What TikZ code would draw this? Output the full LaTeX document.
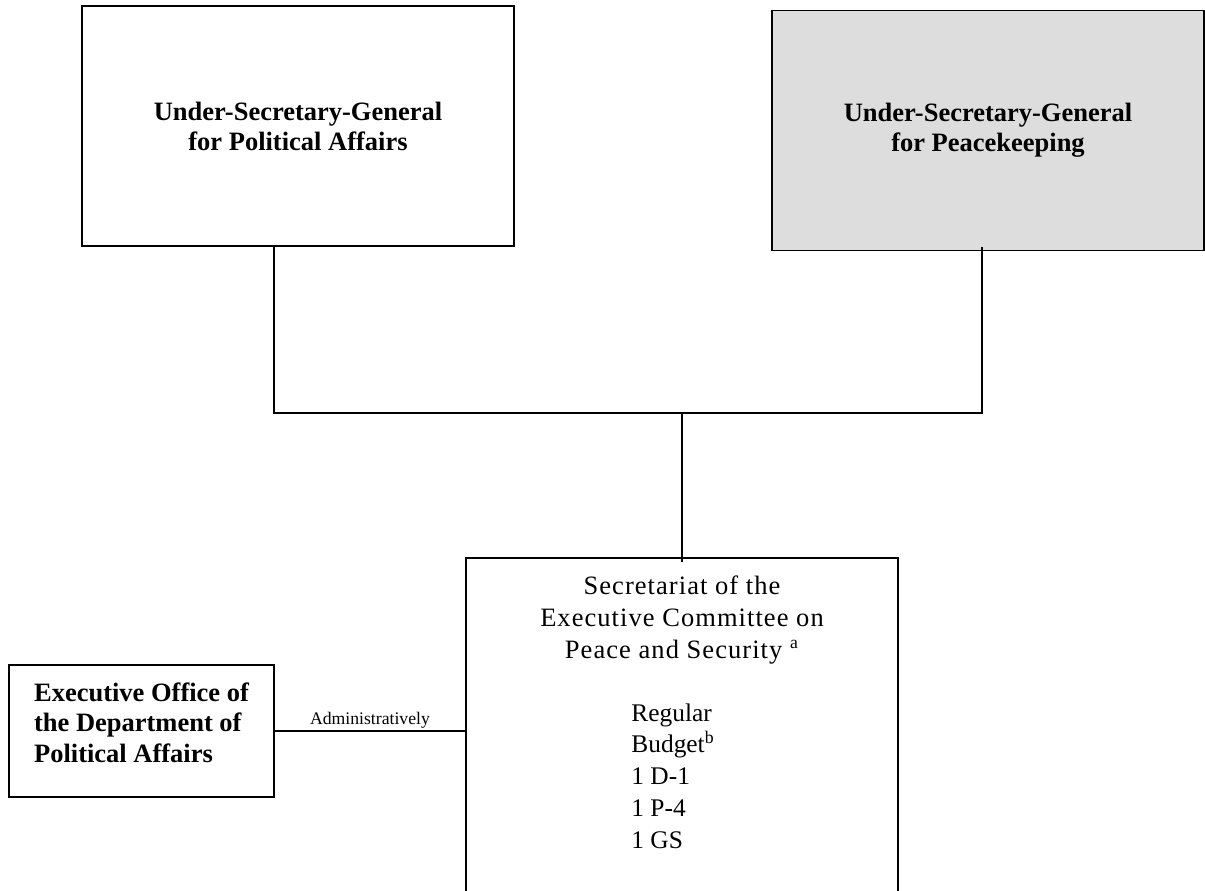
\documentclass[tikz,border=0pt]{standalone}
\usepackage{fontspec}
\setmainfont{Liberation Serif}
\newfontfamily\spacedserif[LetterSpace=4]{Liberation Serif}
\usetikzlibrary{positioning}
\definecolor{boxgray}{RGB}{221,221,221}

\begin{document}
\begin{tikzpicture}[x=0.453pt, y=-0.453pt,
    box/.style={draw, line width=0.75pt, inner sep=0pt, align=center, font=\fontsize{12}{13.6}\selectfont\bfseries}]
    \useasboundingbox (0,0) rectangle (1205,890);
    \clip (0,0) rectangle (1205,890);
    \node[box, minimum width=195.7pt, minimum height=108.7pt] (1) at (298,126) {Under-Secretary-General\\for Political Affairs};
    \node[box, fill=boxgray, minimum width=195.7pt, minimum height=108.7pt] (2) at (988,130.5) {Under-Secretary-General\\for Peacekeeping};
    \node[box, minimum width=195.7pt, minimum height=181.2pt, anchor=north] (3) at (682,557) {};
    \node[box, minimum width=120pt, minimum height=59.8pt,
      label={[name=5, align=left, yshift=3.8pt, font=\fontsize{12}{13.8}\selectfont\bfseries]center:{Executive Office of\\the Department of\\Political Affairs}}] (4) at (141.5,731) {};
    \node[draw=none, inner sep=0pt, align=center, anchor=north, font=\spacedserif\fontsize{12}{14.5}\selectfont] (6) at (682,575) {Secretariat of the\\Executive Committee on\\Peace and Security \textsuperscript{a}};
    \node[draw=none, inner sep=0pt, align=left, anchor=north west, font=\fontsize{11.5}{14.4}\selectfont] (7) at (631,703) {Regular\\Budget\textsuperscript{b}\\1 D-1\\1 P-4\\1 GS};
    \coordinate (8) at (682,413);
\begin{scope}[line width=0.6pt]
    \draw ([xshift=-10.9pt]1.south) |- (8) -| ([xshift=-2.7pt, yshift=1.8pt]2.south);
    \draw (8) -- ([yshift=-2.3pt]3.north);
    \draw (4.east) -- (4.east -| 3.west)
      node[midway, above, inner sep=1pt, font=\fontsize{8}{9}\selectfont] (9) {Administratively};
\end{scope}
\end{tikzpicture}
\end{document}
